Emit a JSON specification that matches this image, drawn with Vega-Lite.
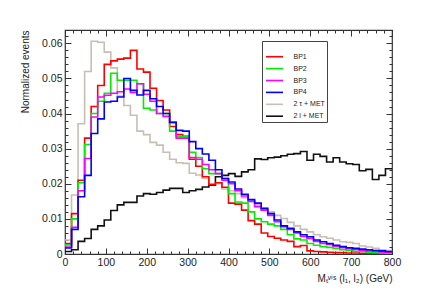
{
"$schema": "https://vega.github.io/schema/vega-lite/v6.json",
"width": 327, "height": 224,
"autosize": "none",
"padding": {"left": 65, "top": 30, "right": 44, "bottom": 46},
"background": "white",
"data": {"values": [
{"lo":0,"hi":16,"BP1":0.003,"BP2":0.0026,"BP3":0.002,"BP4":0.0017,"2 τ + MET":0.004,"2 l + MET":0.0007},
{"lo":16,"hi":32,"BP1":0.0115,"BP2":0.010,"BP3":0.0076,"BP4":0.007,"2 τ + MET":0.0168,"2 l + MET":0.0012},
{"lo":32,"hi":48,"BP1":0.021,"BP2":0.0203,"BP3":0.018,"BP4":0.0163,"2 τ + MET":0.0371,"2 l + MET":0.0036},
{"lo":48,"hi":64,"BP1":0.033,"BP2":0.0312,"BP3":0.0272,"BP4":0.0224,"2 τ + MET":0.052,"2 l + MET":0.0044},
{"lo":64,"hi":80,"BP1":0.042,"BP2":0.040,"BP3":0.039,"BP4":0.0343,"2 τ + MET":0.0606,"2 l + MET":0.007},
{"lo":80,"hi":96,"BP1":0.048,"BP2":0.0435,"BP3":0.0447,"BP4":0.0385,"2 τ + MET":0.0603,"2 l + MET":0.008},
{"lo":96,"hi":112,"BP1":0.054,"BP2":0.0458,"BP3":0.0452,"BP4":0.0433,"2 τ + MET":0.0575,"2 l + MET":0.0097},
{"lo":112,"hi":128,"BP1":0.055,"BP2":0.0515,"BP3":0.0458,"BP4":0.0435,"2 τ + MET":0.053,"2 l + MET":0.0124},
{"lo":128,"hi":144,"BP1":0.0555,"BP2":0.0495,"BP3":0.0462,"BP4":0.0447,"2 τ + MET":0.045,"2 l + MET":0.014},
{"lo":144,"hi":160,"BP1":0.0558,"BP2":0.0495,"BP3":0.047,"BP4":0.050,"2 τ + MET":0.0423,"2 l + MET":0.0147},
{"lo":160,"hi":176,"BP1":0.058,"BP2":0.0495,"BP3":0.046,"BP4":0.0466,"2 τ + MET":0.0395,"2 l + MET":0.0147},
{"lo":176,"hi":192,"BP1":0.0527,"BP2":0.0485,"BP3":0.0485,"BP4":0.0453,"2 τ + MET":0.035,"2 l + MET":0.0165},
{"lo":192,"hi":208,"BP1":0.0518,"BP2":0.0415,"BP3":0.0455,"BP4":0.0466,"2 τ + MET":0.034,"2 l + MET":0.0172},
{"lo":208,"hi":224,"BP1":0.0472,"BP2":0.041,"BP3":0.0435,"BP4":0.0442,"2 τ + MET":0.0318,"2 l + MET":0.017},
{"lo":224,"hi":240,"BP1":0.0437,"BP2":0.040,"BP3":0.040,"BP4":0.042,"2 τ + MET":0.031,"2 l + MET":0.0175},
{"lo":240,"hi":256,"BP1":0.041,"BP2":0.040,"BP3":0.0392,"BP4":0.040,"2 τ + MET":0.029,"2 l + MET":0.0182},
{"lo":256,"hi":272,"BP1":0.0363,"BP2":0.035,"BP3":0.0375,"BP4":0.0375,"2 τ + MET":0.027,"2 l + MET":0.0187},
{"lo":272,"hi":288,"BP1":0.034,"BP2":0.0335,"BP3":0.033,"BP4":0.0352,"2 τ + MET":0.026,"2 l + MET":0.0187},
{"lo":288,"hi":304,"BP1":0.0335,"BP2":0.0335,"BP3":0.033,"BP4":0.035,"2 τ + MET":0.0258,"2 l + MET":0.0175},
{"lo":304,"hi":320,"BP1":0.027,"BP2":0.029,"BP3":0.0275,"BP4":0.032,"2 τ + MET":0.023,"2 l + MET":0.018},
{"lo":320,"hi":336,"BP1":0.025,"BP2":0.0275,"BP3":0.027,"BP4":0.030,"2 τ + MET":0.0225,"2 l + MET":0.0184},
{"lo":336,"hi":352,"BP1":0.022,"BP2":0.0243,"BP3":0.0255,"BP4":0.0285,"2 τ + MET":0.0215,"2 l + MET":0.0191},
{"lo":352,"hi":368,"BP1":0.0198,"BP2":0.0229,"BP3":0.024,"BP4":0.0267,"2 τ + MET":0.020,"2 l + MET":0.0196},
{"lo":368,"hi":384,"BP1":0.0203,"BP2":0.0229,"BP3":0.0229,"BP4":0.024,"2 τ + MET":0.020,"2 l + MET":0.022},
{"lo":384,"hi":400,"BP1":0.019,"BP2":0.0215,"BP3":0.021,"BP4":0.0215,"2 τ + MET":0.0185,"2 l + MET":0.0224},
{"lo":400,"hi":416,"BP1":0.0145,"BP2":0.0172,"BP3":0.020,"BP4":0.0205,"2 τ + MET":0.018,"2 l + MET":0.0229},
{"lo":416,"hi":432,"BP1":0.0142,"BP2":0.0148,"BP3":0.018,"BP4":0.0185,"2 τ + MET":0.0172,"2 l + MET":0.0221},
{"lo":432,"hi":448,"BP1":0.0125,"BP2":0.0145,"BP3":0.0165,"BP4":0.017,"2 τ + MET":0.016,"2 l + MET":0.0234},
{"lo":448,"hi":464,"BP1":0.0095,"BP2":0.012,"BP3":0.015,"BP4":0.0155,"2 τ + MET":0.015,"2 l + MET":0.024},
{"lo":464,"hi":480,"BP1":0.0085,"BP2":0.010,"BP3":0.0135,"BP4":0.0145,"2 τ + MET":0.014,"2 l + MET":0.0271},
{"lo":480,"hi":496,"BP1":0.006,"BP2":0.0092,"BP3":0.0125,"BP4":0.013,"2 τ + MET":0.013,"2 l + MET":0.0269},
{"lo":496,"hi":512,"BP1":0.005,"BP2":0.0085,"BP3":0.011,"BP4":0.0115,"2 τ + MET":0.012,"2 l + MET":0.0274},
{"lo":512,"hi":528,"BP1":0.0045,"BP2":0.008,"BP3":0.0092,"BP4":0.0097,"2 τ + MET":0.011,"2 l + MET":0.0276},
{"lo":528,"hi":544,"BP1":0.004,"BP2":0.007,"BP3":0.0078,"BP4":0.008,"2 τ + MET":0.0101,"2 l + MET":0.028},
{"lo":544,"hi":560,"BP1":0.0036,"BP2":0.0055,"BP3":0.007,"BP4":0.0073,"2 τ + MET":0.009,"2 l + MET":0.0284},
{"lo":560,"hi":576,"BP1":0.0021,"BP2":0.0043,"BP3":0.006,"BP4":0.0063,"2 τ + MET":0.008,"2 l + MET":0.0286},
{"lo":576,"hi":592,"BP1":0.0024,"BP2":0.004,"BP3":0.005,"BP4":0.0055,"2 τ + MET":0.007,"2 l + MET":0.0292},
{"lo":592,"hi":608,"BP1":0.0009,"BP2":0.003,"BP3":0.0044,"BP4":0.0049,"2 τ + MET":0.0063,"2 l + MET":0.0267},
{"lo":608,"hi":624,"BP1":0.0007,"BP2":0.0025,"BP3":0.0036,"BP4":0.004,"2 τ + MET":0.0055,"2 l + MET":0.0284},
{"lo":624,"hi":640,"BP1":0.0006,"BP2":0.0021,"BP3":0.003,"BP4":0.0035,"2 τ + MET":0.0049,"2 l + MET":0.0278},
{"lo":640,"hi":656,"BP1":0.0005,"BP2":0.0019,"BP3":0.0027,"BP4":0.003,"2 τ + MET":0.0045,"2 l + MET":0.0262},
{"lo":656,"hi":672,"BP1":0.0004,"BP2":0.0016,"BP3":0.0022,"BP4":0.0025,"2 τ + MET":0.004,"2 l + MET":0.0274},
{"lo":672,"hi":688,"BP1":0.0004,"BP2":0.0012,"BP3":0.0018,"BP4":0.0021,"2 τ + MET":0.0035,"2 l + MET":0.0262},
{"lo":688,"hi":704,"BP1":0.0003,"BP2":0.001,"BP3":0.0015,"BP4":0.0018,"2 τ + MET":0.0033,"2 l + MET":0.0257},
{"lo":704,"hi":720,"BP1":0.0003,"BP2":0.0008,"BP3":0.0013,"BP4":0.0016,"2 τ + MET":0.003,"2 l + MET":0.0255},
{"lo":720,"hi":736,"BP1":0.0002,"BP2":0.0007,"BP3":0.0011,"BP4":0.0014,"2 τ + MET":0.0023,"2 l + MET":0.0237},
{"lo":736,"hi":752,"BP1":0.0002,"BP2":0.0005,"BP3":0.0009,"BP4":0.0012,"2 τ + MET":0.002,"2 l + MET":0.0241},
{"lo":752,"hi":768,"BP1":0.0001,"BP2":0.0004,"BP3":0.0008,"BP4":0.001,"2 τ + MET":0.0016,"2 l + MET":0.0212},
{"lo":768,"hi":784,"BP1":0.0001,"BP2":0.0003,"BP3":0.0006,"BP4":0.0009,"2 τ + MET":0.0012,"2 l + MET":0.0224},
{"lo":784,"hi":800,"BP1":0.0001,"BP2":0.0002,"BP3":0.0005,"BP4":0.0007,"2 τ + MET":0.001,"2 l + MET":0.0243}
]},
"transform": [
  {"fold": ["2 l + MET", "2 τ + MET", "BP1", "BP2", "BP3", "BP4"], "as": ["series", "v"]},
  {"fold": ["lo", "hi"], "as": ["side", "edge"]}
],
"layer": [
  {
    "mark": {"type": "line", "strokeWidth": 1.6, "interpolate": "linear", "clip": true},
    "encoding": {
      "x": {"field": "edge", "type": "quantitative", "scale": {"domain": [0, 800], "nice": false},
            "axis": {"orient": "bottom", "values": [0,100,200,300,400,500,600,700,800], "ticks": false, "domain": false, "grid": false,
                     "labelPadding": 3, "labelFontSize": 10.5, "labelColor": "#222", "labelFlush": false,
                     "title": "Mₜᵛⁱˢ (l₁, l₂) (GeV)", "titleAnchor": "end", "titleFontSize": 10, "titleFontWeight": "normal", "titleColor": "#222", "titlePadding": 6}},
      "y": {"field": "v", "type": "quantitative", "scale": {"domain": [0, 0.0638], "nice": false},
            "axis": {"orient": "left", "values": [0,0.01,0.02,0.03,0.04,0.05,0.06], "format": ".2~f", "ticks": false, "domain": false, "grid": false,
                     "labelPadding": 3, "labelFontSize": 10.5, "labelColor": "#222", "labelFlush": false,
                     "title": "Normalized events", "titleAnchor": "end", "titleFontSize": 10, "titleFontWeight": "normal", "titleColor": "#222", "titlePadding": 11}},
      "color": {"field": "series", "type": "nominal",
                "scale": {"domain": ["BP1", "BP2", "BP3", "BP4", "2 τ + MET", "2 l + MET"],
                          "range": ["#ff0000", "#00ee00", "#ff00ff", "#0000ff", "#c8beb4", "#111111"]},
                "legend": {"orient": "none", "legendX": 197, "legendY": 11,
                           "title": "\u00a0\u00a0\u00a0\u00a0\u00a0\u00a0\u00a0\u00a0\u00a0\u00a0\u00a0\u00a0\u00a0\u00a0\u00a0\u00a0\u00a0\u00a0\u00a0\u00a0\u00a0\u00a0\u00a0\u00a0\u00a0\u00a0\u00a0\u00a0\u00a0\u00a0\u00a0\u00a0\u00a0\u00a0\u00a0\u00a0\u00a0\u00a0\u00a0\u00a0\u00a0\u00a0\u00a0",
                           "titleFontSize": 8, "titlePadding": 1.7, "padding": 2,
                           "strokeColor": "#444", "fillColor": "white",
                           "symbolType": "M-2.833,0H2.833", "symbolSize": 36, "symbolStrokeWidth": 1.6,
                           "symbolOffset": 6.5, "labelOffset": 15, "labelFontSize": 7, "labelColor": "#222",
                           "rowPadding": 3.9}},
      "order": [{"field": "lo", "type": "quantitative"}, {"field": "edge", "type": "quantitative"}]
    }
  },
  {
    "mark": {"type": "point", "opacity": 0},
    "encoding": {
      "x": {"field": "edge", "type": "quantitative",
            "axis": {"orient": "bottom", "values": [0,100,200,300,400,500,600,700,800], "labels": false, "domain": false, "grid": false, "title": null,
                     "tickSize": -6, "tickColor": "#333", "tickWidth": 1}},
      "y": {"field": "v", "type": "quantitative",
            "axis": {"orient": "left", "values": [0,0.01,0.02,0.03,0.04,0.05,0.06], "labels": false, "domain": false, "grid": false, "title": null,
                     "tickSize": -6, "tickColor": "#333", "tickWidth": 1}}
    }
  },
  {
    "mark": {"type": "point", "opacity": 0},
    "encoding": {
      "x": {"field": "edge", "type": "quantitative",
            "axis": {"orient": "bottom", "values": [0,20,40,60,80,100,120,140,160,180,200,220,240,260,280,300,320,340,360,380,400,420,440,460,480,500,520,540,560,580,600,620,640,660,680,700,720,740,760,780,800], "labels": false, "domain": false, "grid": false, "title": null,
                     "tickSize": -3, "tickColor": "#333", "tickWidth": 1}},
      "y": {"field": "v", "type": "quantitative",
            "axis": {"orient": "left", "values": [0,0.002,0.004,0.006,0.008,0.01,0.012,0.014,0.016,0.018,0.02,0.022,0.024,0.026,0.028,0.03,0.032,0.034,0.036,0.038,0.04,0.042,0.044,0.046,0.048,0.05,0.052,0.054,0.056,0.058,0.06,0.062], "labels": false, "domain": false, "grid": false, "title": null,
                     "tickSize": -3, "tickColor": "#333", "tickWidth": 1}}
    }
  },
  {
    "mark": {"type": "point", "opacity": 0},
    "encoding": {
      "x": {"field": "edge", "type": "quantitative",
            "axis": {"orient": "top", "values": [0,100,200,300,400,500,600,700,800], "labels": false, "domain": false, "grid": false, "title": null,
                     "tickSize": -6, "tickColor": "#333", "tickWidth": 1}},
      "y": {"field": "v", "type": "quantitative",
            "axis": {"orient": "right", "values": [0,0.01,0.02,0.03,0.04,0.05,0.06], "labels": false, "domain": false, "grid": false, "title": null,
                     "tickSize": -6, "tickColor": "#333", "tickWidth": 1}}
    }
  },
  {
    "mark": {"type": "point", "opacity": 0},
    "encoding": {
      "x": {"field": "edge", "type": "quantitative",
            "axis": {"orient": "top", "values": [0,20,40,60,80,100,120,140,160,180,200,220,240,260,280,300,320,340,360,380,400,420,440,460,480,500,520,540,560,580,600,620,640,660,680,700,720,740,760,780,800], "labels": false, "domain": false, "grid": false, "title": null,
                     "tickSize": -3, "tickColor": "#333", "tickWidth": 1}},
      "y": {"field": "v", "type": "quantitative",
            "axis": {"orient": "right", "values": [0,0.002,0.004,0.006,0.008,0.01,0.012,0.014,0.016,0.018,0.02,0.022,0.024,0.026,0.028,0.03,0.032,0.034,0.036,0.038,0.04,0.042,0.044,0.046,0.048,0.05,0.052,0.054,0.056,0.058,0.06,0.062], "labels": false, "domain": false, "grid": false, "title": null,
                     "tickSize": -3, "tickColor": "#333", "tickWidth": 1}}
    }
  }
],
"resolve": {"axis": {"x": "independent", "y": "independent"}},
"config": {
  "font": "Liberation Sans",
  "view": {"stroke": "#333", "strokeWidth": 1.2},
  "legend": {"labelFont": "Liberation Sans", "titleFont": "Liberation Sans"}
}
}
